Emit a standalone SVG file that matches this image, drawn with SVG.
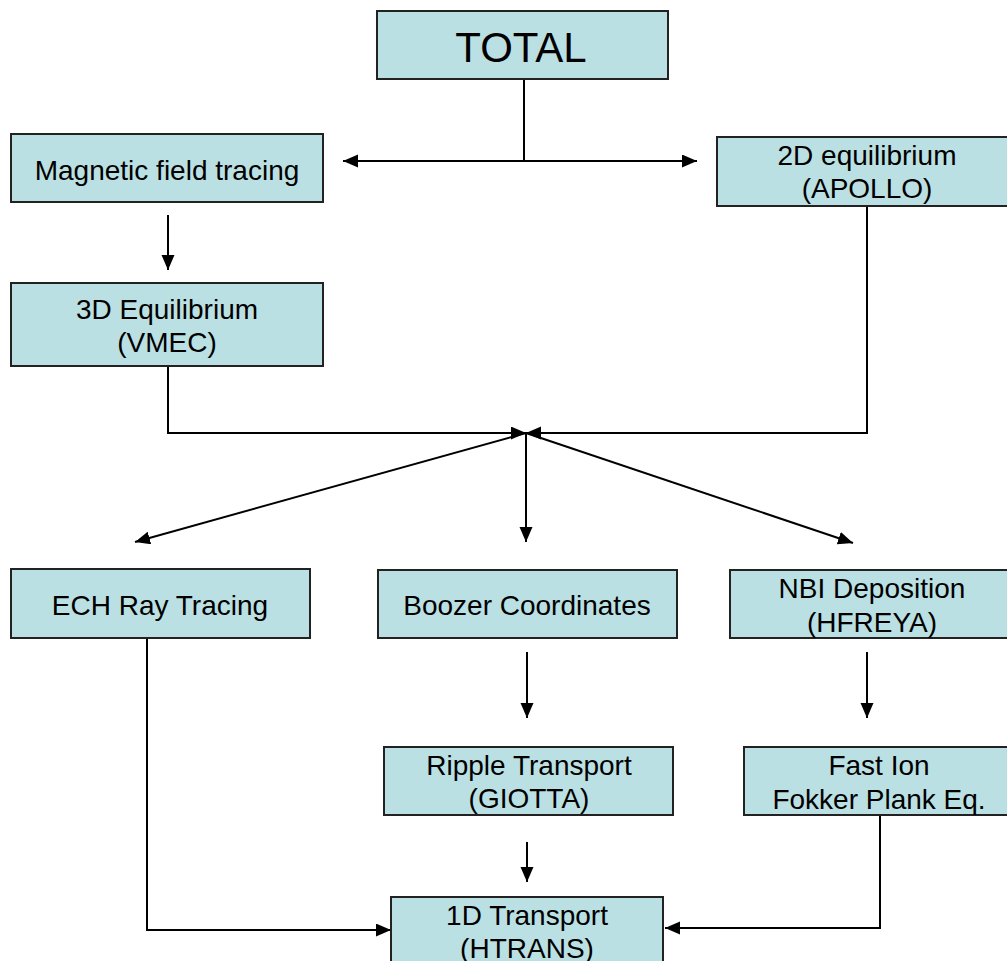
<svg xmlns="http://www.w3.org/2000/svg" width="1007" height="961" viewBox="0 0 1007 961">
<style>
.box{fill:#BBE0E3;stroke:#222;stroke-width:2}
.t{font-family:"Liberation Sans",Arial,sans-serif;font-size:28px;fill:#000;text-anchor:middle}
.big{font-size:42px}
.c{fill:none;stroke:#000;stroke-width:2}
</style>
<defs>
<marker id="ah" markerUnits="userSpaceOnUse" markerWidth="16" markerHeight="14" refX="15" refY="6.5" orient="auto">
<path d="M0,0 L15,6.5 L0,13 z" fill="#000"/>
</marker>
</defs>
<rect width="1007" height="961" fill="#fff"/>
<g id="connectors">
<path class="c" d="M524,79 V161"/>
<path class="c" d="M524,161 H343" marker-end="url(#ah)"/>
<path class="c" d="M524,161 H697" marker-end="url(#ah)"/>
<path class="c" d="M168,215 V270" marker-end="url(#ah)"/>
<path class="c" d="M168,366 V433 H526" marker-end="url(#ah)"/>
<path class="c" d="M867,206 V433 H526" marker-end="url(#ah)"/>
<path class="c" d="M526,433 L135,542" marker-end="url(#ah)"/>
<path class="c" d="M526,433 V542" marker-end="url(#ah)"/>
<path class="c" d="M526,433 L853,543" marker-end="url(#ah)"/>
<path class="c" d="M527,652 V718" marker-end="url(#ah)"/>
<path class="c" d="M867,652 V718" marker-end="url(#ah)"/>
<path class="c" d="M527,842 V882" marker-end="url(#ah)"/>
<path class="c" d="M147,638 V930 H391" marker-end="url(#ah)"/>
<path class="c" d="M880,815 V928 H665" marker-end="url(#ah)"/>
</g>
<g id="total">
<rect class="box" x="377" y="11" width="291" height="68"/>
<text class="t big" x="521" y="62">TOTAL</text>
</g>
<g id="magnetic">
<rect class="box" x="11" y="134" width="312" height="68"/>
<text class="t" x="167" y="180">Magnetic field tracing</text>
</g>
<g id="equil2d">
<rect class="box" x="717" y="137" width="292" height="69"/>
<text class="t" x="867" y="165">2D equilibrium</text>
<text class="t" x="867" y="198">(APOLLO)</text>
</g>
<g id="equil3d">
<rect class="box" x="11" y="283" width="312" height="83"/>
<text class="t" x="167" y="319">3D Equilibrium</text>
<text class="t" x="167" y="352">(VMEC)</text>
</g>
<g id="ech">
<rect class="box" x="11" y="569" width="299" height="69"/>
<text class="t" x="160" y="615">ECH Ray Tracing</text>
</g>
<g id="boozer">
<rect class="box" x="378" y="570" width="299" height="68"/>
<text class="t" x="527" y="615">Boozer Coordinates</text>
</g>
<g id="nbi">
<rect class="box" x="730" y="570" width="279" height="68"/>
<text class="t" x="872" y="598">NBI Deposition</text>
<text class="t" x="872" y="632">(HFREYA)</text>
</g>
<g id="ripple">
<rect class="box" x="384" y="747" width="289" height="68"/>
<text class="t" x="529" y="775">Ripple Transport</text>
<text class="t" x="529" y="808">(GIOTTA)</text>
</g>
<g id="fastion">
<rect class="box" x="744" y="747" width="265" height="68"/>
<text class="t" x="879" y="775">Fast Ion</text>
<text class="t" x="879" y="809">Fokker Plank Eq.</text>
</g>
<g id="transport1d">
<rect class="box" x="391" y="897" width="272" height="80"/>
<text class="t" x="527" y="925">1D Transport</text>
<text class="t" x="527" y="958">(HTRANS)</text>
</g>
</svg>
